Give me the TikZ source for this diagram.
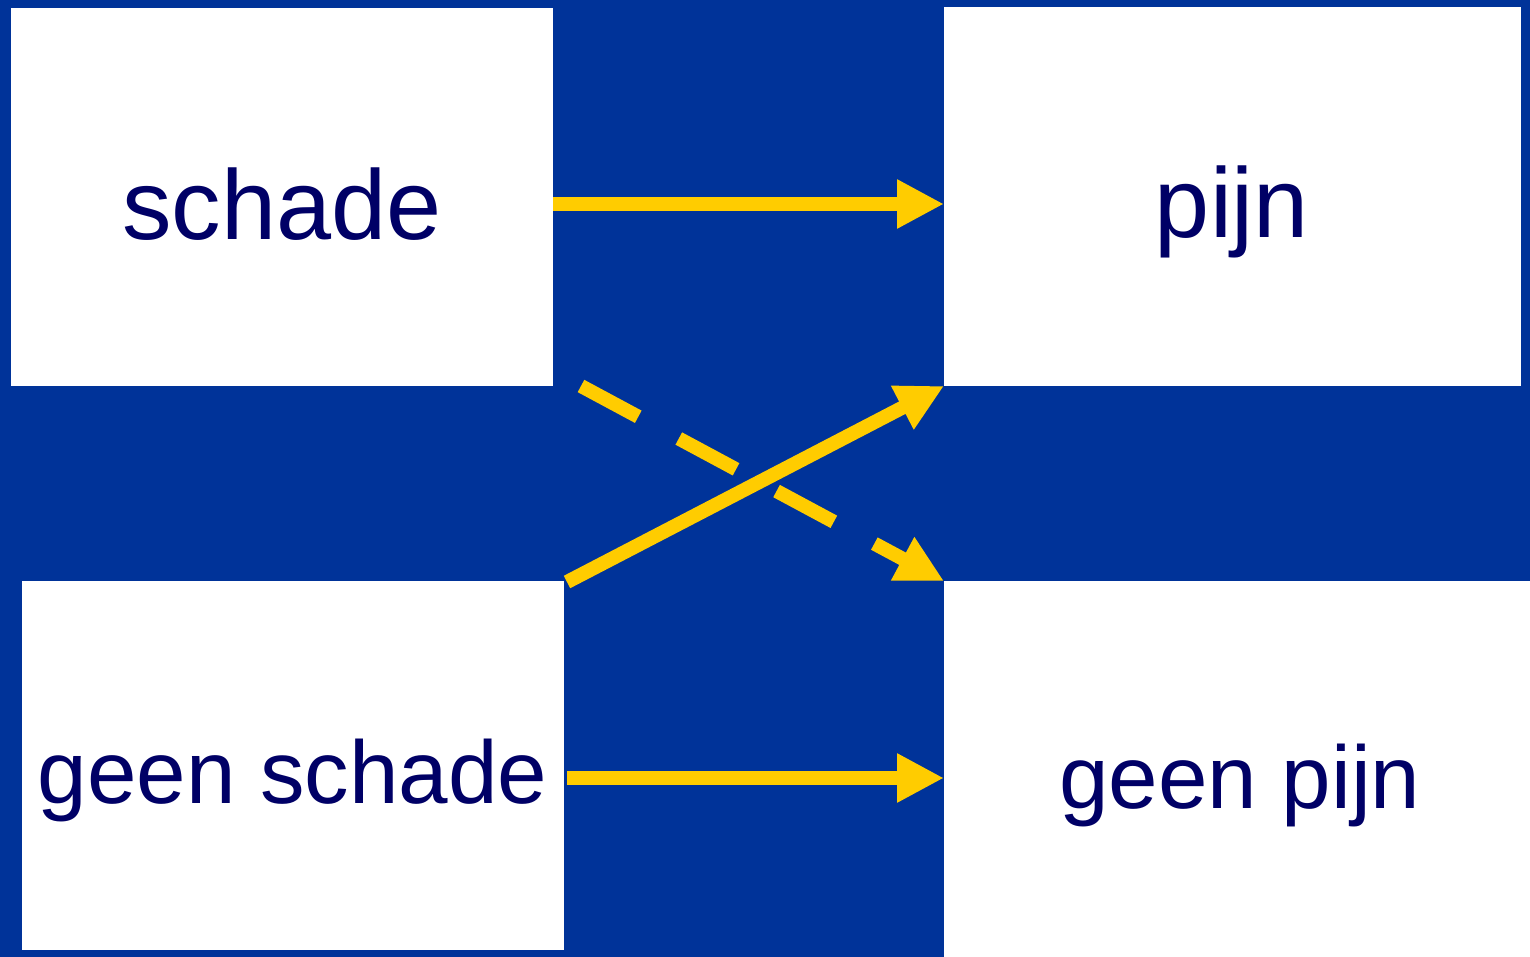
\documentclass[tikz,border=0pt]{standalone}
\usepackage{fontspec}
\setmainfont{Liberation Sans}
\usetikzlibrary{arrows.meta,calc}
\definecolor{bg}{HTML}{003399}
\definecolor{arr}{HTML}{FFCC00}
\definecolor{txt}{HTML}{000066}
\begin{document}
\begin{tikzpicture}[x=0.5pt,y=-0.5pt,
  box/.style={fill=white, draw=none, inner sep=0pt, outer sep=0pt},
  lbl/.style={text=txt, anchor=base, inner sep=0pt},
  big/.style={font=\fontsize{49.5}{50}\selectfont},
  small/.style={font=\fontsize{44.5}{45}\selectfont},
  conn/.style={draw=arr, line width=7pt, -{Triangle[length=23.5pt,width=23pt]}},
  dconn/.style={conn, dash pattern=on 32.5pt off 23pt}]
\fill[bg] (0,0) rectangle (1530,957);
\useasboundingbox (0,0) rectangle (1530,957);
\node[box, minimum width=271pt, minimum height=189pt] (b1) at (282,197) {};
\node[box, minimum width=288.5pt, minimum height=189.5pt] (b2) at (1232.5,196.5) {};
\node[box, minimum width=271pt, minimum height=184.5pt] (b3) at (293,765.5) {};
\node[box, minimum width=293pt, minimum height=188pt] (b4) at (1237,769) {};
\node[lbl, big] (t1) at (282,240) {schade};
\node[lbl, big] (t2) at (1232,238) {pijn};
\node[lbl, small] (t3) at (292.5,803) {geen schade};
\node[lbl, small] (t4) at (1240,808) {geen pijn};
\draw[conn] ($(b1.east)+(0,7)$) -- ($(b2.west)+(0,7.5)$);
\draw[conn] ($(b3.east)+(3,12.5)$) -- ($(b4.west)+(0,9)$);
\draw[conn] ($(b3.north east)+(3,1)$) -- (b2.south west);
\draw[dconn] ($(b1.south east)+(28,0)$) -- (b4.north west);
\end{tikzpicture}
\end{document}
